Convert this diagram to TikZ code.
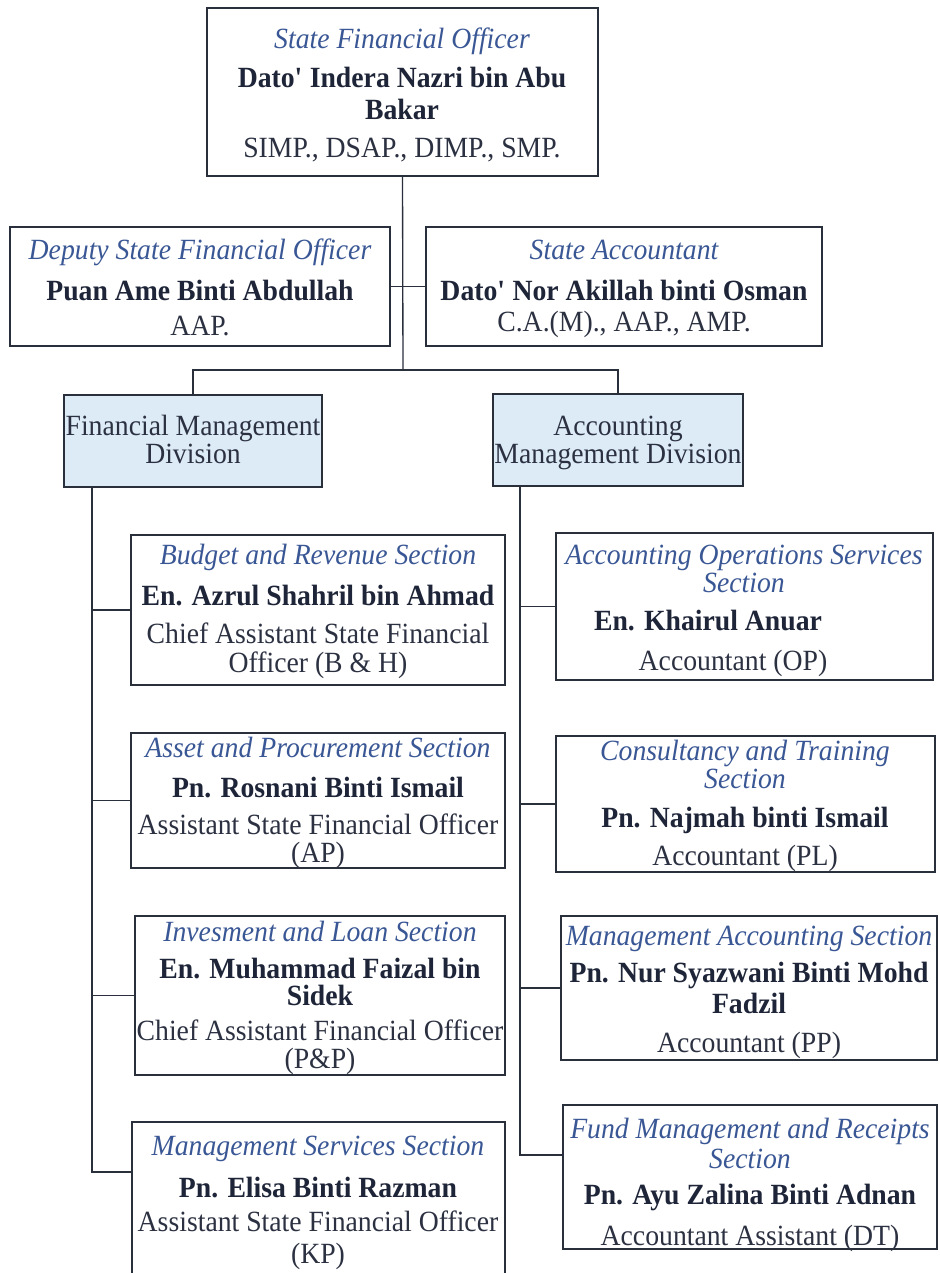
\documentclass[tikz,border=0pt]{standalone}
\usepackage{fontspec}
\setmainfont{Liberation Serif}[FakeStretch=0.945]
\usetikzlibrary{fit}
\definecolor{titleblue}{HTML}{3A5795}
\definecolor{namecol}{HTML}{1E2538}
\definecolor{rolecol}{HTML}{2C3142}
\definecolor{boxcol}{HTML}{2A2F3C}
\definecolor{divfill}{HTML}{DDEBF7}
\definecolor{linecol}{HTML}{2A2F3C}
\tikzset{
  txt/.style={anchor=base, inner sep=0pt, font=\fontsize{22}{24}\selectfont},
  ttl/.style={txt, font=\fontsize{22}{24}\selectfont\itshape, text=titleblue},
  nme/.style={txt, font=\fontsize{22}{24}\selectfont\bfseries, text=namecol},
  role/.style={txt, text=rolecol},
  box/.style={draw=boxcol, line width=1.1pt, rectangle, inner sep=0pt},
  divbox/.style={box, fill=divfill},
  conn/.style={draw=linecol, line width=1pt}
}
\begin{document}
\begin{tikzpicture}[x=0.75pt,y=-0.75pt]
\useasboundingbox (0,0) rectangle (939,1273);
\clip (0,0) rectangle (939,1273);
\fill[white] (0,0) rectangle (939,1273);

% boxes
\node[box, fit={(207,8) (598,176)}] (sfo) {};
\node[box, fit={(10,227) (390,346)}] (dep) {};
\node[box, fit={(426,227) (822,346)}] (sa) {};
\node[divbox, fit={(64,395) (322,487)}] (fmd) {};
\node[divbox, fit={(493,394) (743,486)}] (amd) {};
\node[box, fit={(131,535) (505,685)}] (bud) {};
\node[box, fit={(131,733) (505,868)}] (ass) {};
\node[box, fit={(135,916) (505,1075)}] (inv) {};
\node[box, fit={(132,1122) (505,1290)}] (msv) {};
\node[box, fit={(556,533) (933,680)}] (aos) {};
\node[box, fit={(556,736) (935,872)}] (con) {};
\node[box, fit={(561,916) (937,1060)}] (mac) {};
\node[box, fit={(563,1105) (937,1249)}] (fnd) {};

% connector coordinates
\coordinate (jtop) at (403,370);
\coordinate (ltop) at (92,487);
\coordinate (rtop) at (520,486);
\coordinate (msvin) at (132,1172);
\coordinate (fndin) at (563,1155);

% connectors
\draw[conn] (sfo.south) -- (jtop);
\draw[conn] (dep.east) -- (sa.west);
\draw[conn] (fmd.north) -- (fmd.north |- jtop) -- (amd.north |- jtop) -- (amd.north);
\draw[conn] (ltop) |- (msvin);
\draw[conn] (ltop |- bud.west) -- (bud.west);
\draw[conn] (ltop |- ass.west) -- (ass.west);
\draw[conn] (ltop |- inv.west) -- (inv.west);
\draw[conn] (rtop) |- (fndin);
\draw[conn] (rtop |- aos.west) -- (aos.west);
\draw[conn] (rtop |- con.west) -- (con.west);
\draw[conn] (rtop |- mac.west) -- (mac.west);

% texts
\node[ttl] (sfo1) at (402,49) {State Financial Officer};
\node[nme] (sfo2) at (402,88) {Dato\textquotesingle{} Indera Nazri bin Abu};
\node[nme] (sfo3) at (402,120) {Bakar};
\node[role] (sfo4) at (402,158) {SIMP., DSAP., DIMP., SMP.};

\node[ttl] (dep1) at (200,259) {Deputy State Financial Officer};
\node[nme] (dep2) at (200,300) {Puan Ame Binti Abdullah};
\node[role] (dep3) at (200,335) {AAP.};

\node[ttl] (sa1) at (624,259) {State Accountant};
\node[nme] (sa2) at (624,300) {Dato\textquotesingle{} Nor Akillah binti Osman};
\node[role] (sa3) at (624,331) {C.A.(M)., AAP., AMP.};

\node[role] (fmd1) at (193,435) {Financial Management};
\node[role] (fmd2) at (193,463) {Division};

\node[role] (amd1) at (618,435) {Accounting};
\node[role] (amd2) at (618,463) {Management Division};

\node[ttl] (bud1) at (318,564) {Budget and Revenue Section};
\node[nme] (bud2) at (318,605) {En. Azrul Shahril bin Ahmad};
\node[role] (bud3) at (318,643) {Chief Assistant State Financial};
\node[role] (bud4) at (318,672) {Officer (B \& H)};

\node[ttl] (ass1) at (318,757) {Asset and Procurement Section};
\node[nme] (ass2) at (318,797) {Pn. Rosnani Binti Ismail};
\node[role] (ass3) at (318,834) {Assistant State Financial Officer};
\node[role] (ass4) at (318,862) {(AP)};

\node[ttl] (inv1) at (320,941) {Invesment and Loan Section};
\node[nme] (inv2) at (320,978) {En. Muhammad Faizal bin};
\node[nme] (inv3) at (320,1005) {Sidek};
\node[role] (inv4) at (320,1040) {Chief Assistant Financial Officer};
\node[role] (inv5) at (320,1068) {(P\&P)};

\node[ttl] (msv1) at (318,1155) {Management Services Section};
\node[nme] (msv2) at (318,1197) {Pn. Elisa Binti Razman};
\node[role] (msv3) at (318,1231) {Assistant State Financial Officer};
\node[role] (msv4) at (318,1263) {(KP)};

\node[ttl] (aos1) at (744,564) {Accounting Operations Services};
\node[ttl] (aos2) at (744,592) {Section};
\node[nme] (aos3) at (708,630) {En. Khairul Anuar};
\node[role] (aos4) at (733,670) {Accountant (OP)};

\node[ttl] (con1) at (745,760) {Consultancy and Training};
\node[ttl] (con2) at (745,788) {Section};
\node[nme] (con3) at (745,827) {Pn. Najmah binti Ismail};
\node[role] (con4) at (745,865) {Accountant (PL)};

\node[ttl] (mac1) at (749,945) {Management Accounting Section};
\node[nme] (mac2) at (749,982) {Pn. Nur Syazwani Binti Mohd};
\node[nme] (mac3) at (749,1013) {Fadzil};
\node[role] (mac4) at (749,1052) {Accountant (PP)};

\node[ttl] (fnd1) at (750,1138) {Fund Management and Receipts};
\node[ttl] (fnd2) at (750,1168) {Section};
\node[nme] (fnd3) at (750,1204) {Pn. Ayu Zalina Binti Adnan};
\node[role] (fnd4) at (750,1245) {Accountant Assistant (DT)};
\end{tikzpicture}
\end{document}
